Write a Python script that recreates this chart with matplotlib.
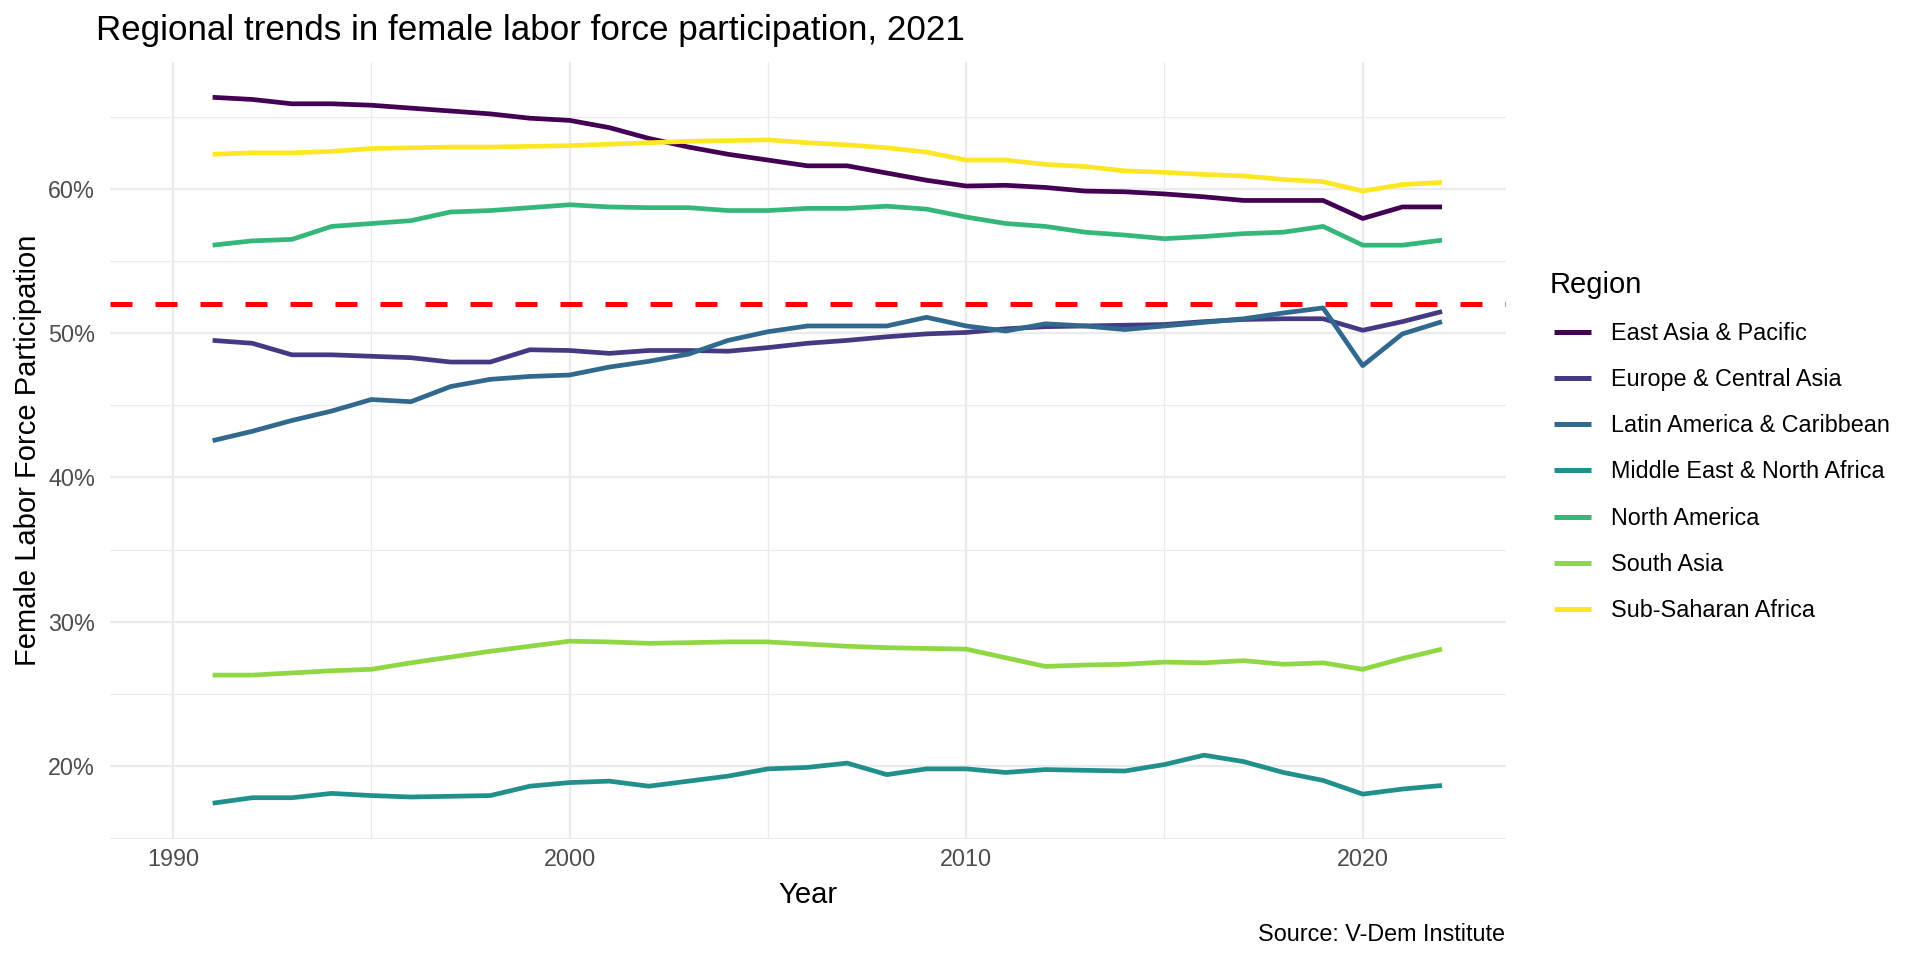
import matplotlib
matplotlib.use("Agg")
import matplotlib.pyplot as plt
from matplotlib.ticker import FixedLocator, AutoMinorLocator, PercentFormatter

plt.rcParams['font.family'] = ['Liberation Sans', 'DejaVu Sans']

years = list(range(1991, 2023))

regions = [
    "East Asia & Pacific",
    "Europe & Central Asia",
    "Latin America & Caribbean",
    "Middle East & North Africa",
    "North America",
    "South Asia",
    "Sub-Saharan Africa",
]

east_asia = [66.35, 66.2, 65.9, 65.9, 65.8, 65.6, 65.4, 65.2, 64.9, 64.75, 64.25, 63.5,
             62.9, 62.4, 62.0, 61.6, 61.6, 61.1, 60.6, 60.2, 60.25, 60.1, 59.85, 59.8,
             59.65, 59.45, 59.2, 59.2, 59.2, 57.95, 58.75, 58.75]
europe = [49.5, 49.3, 48.5, 48.5, 48.4, 48.3, 48.0, 48.0, 48.85, 48.8, 48.6, 48.8,
          48.8, 48.75, 49.0, 49.3, 49.5, 49.75, 49.95, 50.05, 50.3, 50.45, 50.5, 50.55,
          50.6, 50.8, 50.95, 51.0, 51.0, 50.2, 50.8, 51.5]
latam = [42.55, 43.2, 43.95, 44.6, 45.4, 45.25, 46.3, 46.8, 47.0, 47.1, 47.65, 48.05,
         48.55, 49.5, 50.1, 50.5, 50.5, 50.5, 51.1, 50.5, 50.15, 50.65, 50.5, 50.25,
         50.5, 50.75, 51.0, 51.4, 51.75, 47.75, 49.95, 50.8]
mena = [17.42, 17.8, 17.8, 18.1, 17.95, 17.85, 17.9, 17.95, 18.6, 18.85, 18.95, 18.6,
        18.95, 19.3, 19.8, 19.9, 20.2, 19.4, 19.8, 19.8, 19.55, 19.75, 19.7, 19.65,
        20.1, 20.75, 20.3, 19.55, 19.0, 18.05, 18.4, 18.65]
north_america = [56.1, 56.4, 56.5, 57.4, 57.6, 57.8, 58.4, 58.5, 58.7, 58.9, 58.75, 58.7,
                 58.7, 58.5, 58.5, 58.65, 58.65, 58.8, 58.6, 58.05, 57.6, 57.4, 57.0, 56.8,
                 56.55, 56.7, 56.9, 57.0, 57.4, 56.1, 56.1, 56.45]
south_asia = [26.3, 26.3, 26.45, 26.6, 26.7, 27.15, 27.55, 27.95, 28.3, 28.65, 28.6, 28.5,
              28.55, 28.6, 28.6, 28.45, 28.3, 28.2, 28.15, 28.1, 27.5, 26.9, 27.0, 27.05,
              27.2, 27.15, 27.3, 27.05, 27.15, 26.7, 27.45, 28.1]
ssa = [62.4, 62.5, 62.5, 62.6, 62.8, 62.85, 62.9, 62.9, 62.95, 63.0, 63.1, 63.2,
       63.3, 63.35, 63.4, 63.2, 63.05, 62.85, 62.55, 62.0, 62.0, 61.7, 61.55, 61.25,
       61.15, 61.0, 60.9, 60.65, 60.5, 59.85, 60.3, 60.45]

series = [east_asia, europe, latam, mena, north_america, south_asia, ssa]
colors = ["#440154", "#443A83", "#31688E", "#21908C", "#35B779", "#8FD744", "#FDE725"]

benchmark = 52.0

W, H = 1920, 960
fig = plt.figure(figsize=(W / 100, H / 100), dpi=100)
# panel in pixels: left 109.5, right 1505.5, top 62, bottom 838.5
ax = fig.add_axes([109.5 / W, 1 - 838.5 / H, 1396 / W, 776.5 / H])

for name, vals, c in zip(regions, series, colors):
    ax.plot(years, vals, color=c, lw=3.4, label=name, solid_capstyle='butt', zorder=2)

ax.axhline(benchmark, color='red', lw=3.6, linestyle=(0, (4.4, 4.6)), zorder=3)

# ggplot-like expansion
lo = min(min(s) for s in series)
hi = max(max(s) for s in series)
pad = (hi - lo) * 0.05
ax.set_ylim(lo - pad, hi + pad)
ax.set_xlim(1988.4, 2023.6)

ax.xaxis.set_major_locator(FixedLocator([1990, 2000, 2010, 2020]))
ax.xaxis.set_minor_locator(AutoMinorLocator(2))
ax.yaxis.set_major_locator(FixedLocator([20, 30, 40, 50, 60]))
ax.yaxis.set_minor_locator(AutoMinorLocator(2))
ax.yaxis.set_major_formatter(PercentFormatter(decimals=0))

for s in ax.spines.values():
    s.set_visible(False)
ax.tick_params(which='both', length=0, labelsize=16.8, labelcolor='#4D4D4D')
ax.tick_params(axis='y', pad=10.4)
ax.tick_params(axis='x', pad=7.0)
ax.grid(which='major', color='#EBEBEB', lw=1.7)
ax.grid(which='minor', color='#EBEBEB', lw=0.9)
ax.set_axisbelow(True)

# legend entries (title drawn separately below)
leg = ax.legend(loc='center left', bbox_to_anchor=(1554 / W, 1 - 472 / H),
                bbox_transform=fig.transFigure, frameon=False,
                fontsize=16.8, handlelength=1.59, handletextpad=0.86,
                labelspacing=0.995, borderpad=0, borderaxespad=0)
for line in leg.get_lines():
    line.set_linewidth(3.6)
fig.text(1550 / W, 1 - 293 / H, "Region", fontsize=21, ha='left', va='baseline')

fig.text(96 / W, 1 - 40 / H, "Regional trends in female labor force participation, 2021",
         fontsize=25.2, ha='left', va='baseline')
fig.text(807.5 / W, 1 - 895 / H, "Year", fontsize=21, ha='center', va='center')
fig.text(28 / W, 1 - 450 / H, "Female Labor Force Participation", fontsize=21,
         ha='center', va='center', rotation=90)
fig.text(1504.5 / W, 1 - 940.7 / H, "Source: V-Dem Institute", fontsize=16.8,
         ha='right', va='baseline')

fig.savefig("out.png", dpi=100, facecolor='white')
